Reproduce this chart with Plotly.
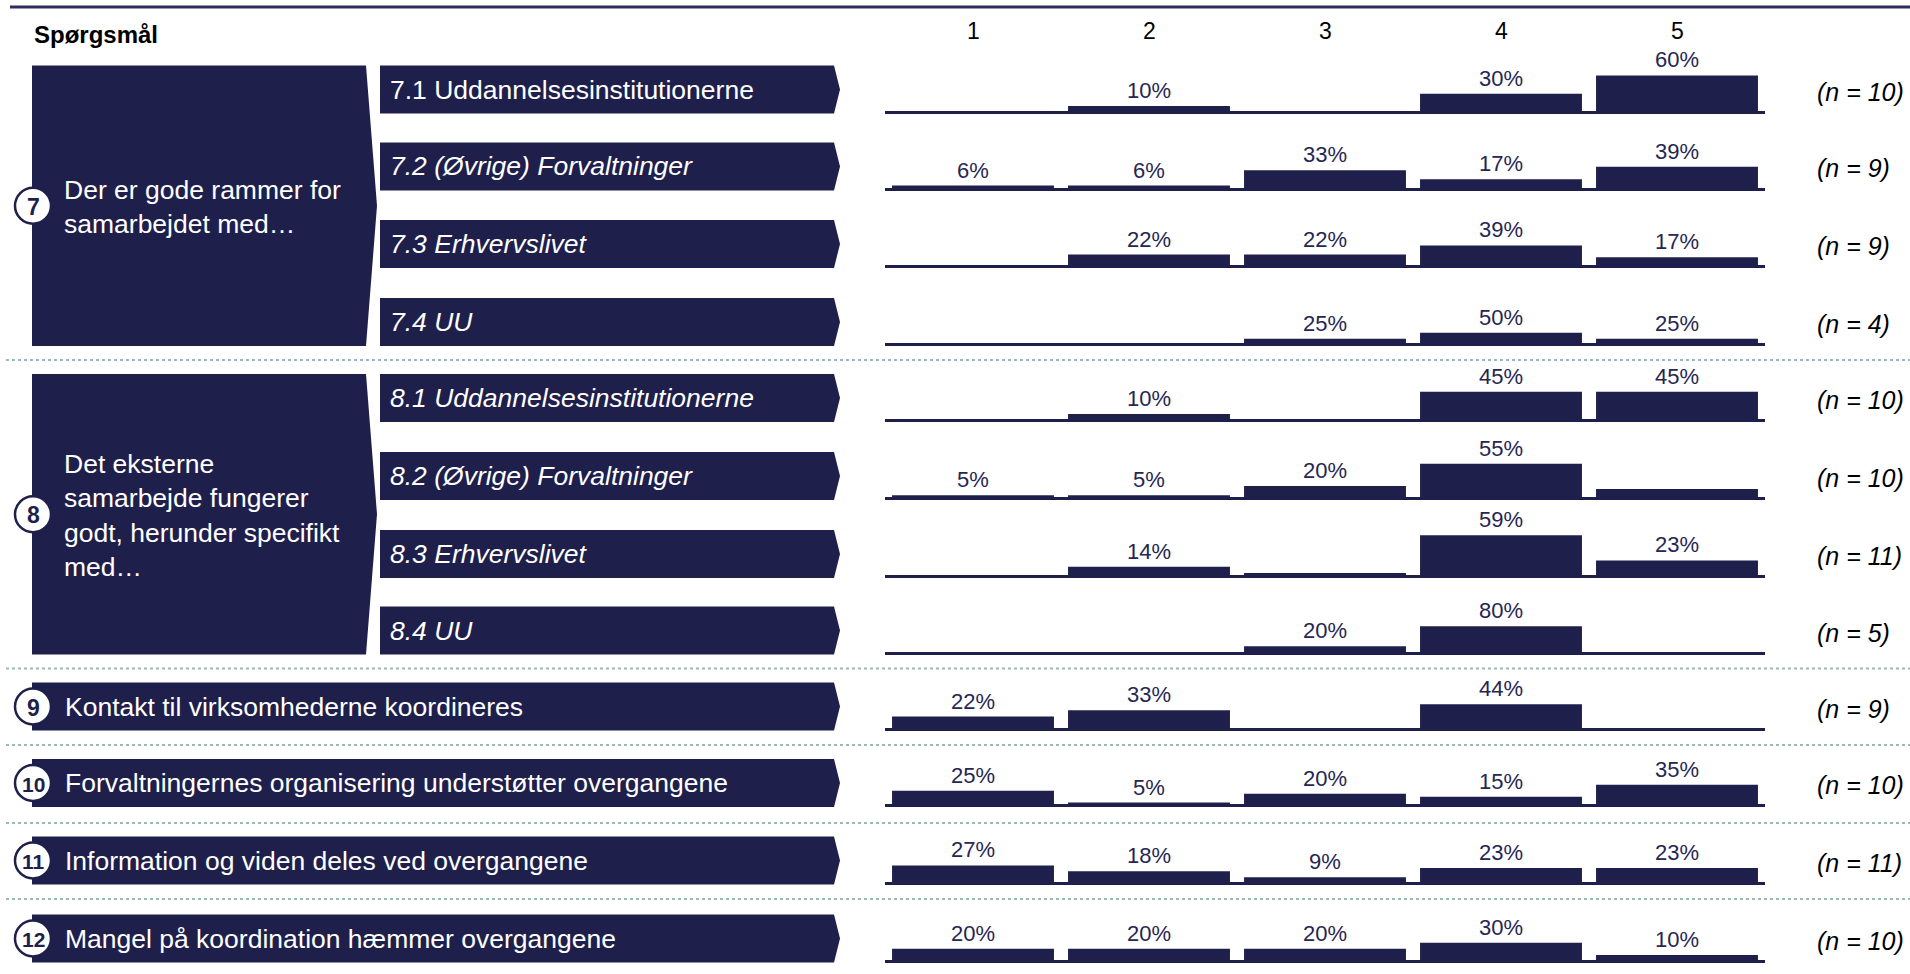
import plotly.graph_objects as go

# ---------------- data ----------------
categories = [1, 2, 3, 4, 5]
header_title = "Spørgsmål"

group_numbers = ["7", "8"]
group_texts = ["Der er gode rammer for<br>samarbejdet med…",
               "Det eksterne<br>samarbejde fungerer<br>godt, herunder specifikt<br>med…"]

sub_labels = ["7.1 Uddannelsesinstitutionerne", "7.2 (Øvrige) Forvaltninger",
              "7.3 Erhvervslivet", "7.4 UU",
              "8.1 Uddannelsesinstitutionerne", "8.2 (Øvrige) Forvaltninger",
              "8.3 Erhvervslivet", "8.4 UU"]
sub_italic = [False, True, True, True, True, True, True, True]

single_numbers = ["9", "10", "11", "12"]
single_labels = ["Kontakt til virksomhederne koordineres",
                 "Forvaltningernes organisering understøtter overgangene",
                 "Information og viden deles ved overgangene",
                 "Mangel på koordination hæmmer overgangene"]

v_7_1 = [0, 10, 0, 30, 60]
v_7_2 = [6, 6, 33, 17, 39]
v_7_3 = [0, 22, 22, 39, 17]
v_7_4 = [0, 0, 25, 50, 25]
v_8_1 = [0, 10, 0, 45, 45]
v_8_2 = [5, 5, 20, 55, 15]
v_8_3 = [0, 14, 5, 59, 23]
v_8_4 = [0, 0, 20, 80, 0]
v_9 = [22, 33, 0, 44, 0]
v_10 = [25, 5, 20, 15, 35]
v_11 = [27, 18, 9, 23, 23]
v_12 = [20, 20, 20, 30, 10]
row_values = [v_7_1, v_7_2, v_7_3, v_7_4, v_8_1, v_8_2, v_8_3, v_8_4,
              v_9, v_10, v_11, v_12]
n_values = [10, 9, 9, 4, 10, 10, 11, 5, 9, 10, 11, 10]
# bars drawn without a value label in the original (row index, category)
unlabeled = [(5, 5), (6, 3)]

# ---------------- styling / layout ----------------
W, H = 1910, 974
NAVY = "#1F1F4C"
LABEL = "#262653"
FONT = "Liberation Sans, Arial, sans-serif"
TXT = 26.5
row_bottom = [113.5, 190.5, 268, 346, 422, 500, 578, 654.5, 730.5, 807, 884.5, 962.5]
row_scale = [0.61, 0.57, 0.54, 0.235, 0.64, 0.63, 0.70, 0.335, 0.565, 0.59, 0.65, 0.61]
BOX_H = 48
PLOT_H = 70
X0, X1 = 885, 1765
separators = [360, 668.5, 745, 823, 899]


def px(x):
    return x / W


def py(y):
    return 1 - y / H


def path(points):
    return "M " + " L ".join(f"{px(x):.6f},{py(y):.6f}" for x, y in points) + " Z"


fig = go.Figure()
layout = dict(width=W, height=H, margin=dict(l=0, r=0, t=0, b=0),
              paper_bgcolor="white", plot_bgcolor="rgba(0,0,0,0)",
              showlegend=False, hovermode=False, barmode="group",
              font=dict(family=FONT))

for i, vals in enumerate(row_values):
    k = row_scale[i]
    B = row_bottom[i]
    sfx = "" if i == 0 else str(i + 1)
    texts = []
    for c, v in zip(categories, vals):
        texts.append("" if (v == 0 or (i, c) in unlabeled) else f"{v}%")
    fig.add_trace(go.Bar(x=categories, y=vals, text=texts, textposition="outside",
                         cliponaxis=False, constraintext="none", width=0.92,
                         marker=dict(color=NAVY, line=dict(width=0)),
                         textfont=dict(size=22, color=LABEL, family=FONT),
                         xaxis="x" + sfx, yaxis="y" + sfx))
    layout["xaxis" + sfx] = dict(domain=[px(X0), px(X1)], range=[0.5, 5.5],
                                 showticklabels=False, showgrid=False, zeroline=False,
                                 showline=False, ticks="", anchor="y" + sfx)
    layout["yaxis" + sfx] = dict(domain=[py(B), py(B - PLOT_H)],
                                 range=[-1.5 / k, (PLOT_H - 1.5) / k],
                                 showticklabels=False, showgrid=False, zeroline=True,
                                 zerolinewidth=3, zerolinecolor=NAVY, showline=False,
                                 ticks="", anchor="x" + sfx)

shapes = []
annotations = []

# top rule
shapes.append(dict(type="line", xref="paper", yref="paper", x0=px(10), x1=1,
                   y0=py(7), y1=py(7), line=dict(color="#2E2E5E", width=3)))

# dotted separators
for y in separators:
    shapes.append(dict(type="line", xref="paper", yref="paper", x0=px(6), x1=1,
                       y0=py(y), y1=py(y), line=dict(color="#9CB8B8", width=2, dash="dot")))

# header
annotations.append(dict(text="<b>" + header_title + "</b>", x=px(32), y=py(34),
                        xref="paper", yref="paper", xanchor="left", yanchor="middle",
                        showarrow=False, font=dict(size=24, color="black", family=FONT)))
for c in categories:
    annotations.append(dict(text=str(c), x=c, y=py(31), xref="x", yref="paper",
                            xanchor="center", yanchor="middle", showarrow=False,
                            font=dict(size=23, color="black", family=FONT)))


def circle(cy, label):
    shapes.append(dict(type="circle", xref="paper", yref="paper",
                       x0=px(15), x1=px(51), y0=py(cy + 18), y1=py(cy - 18),
                       fillcolor="white", line=dict(color=NAVY, width=2.5), layer="above"))
    annotations.append(dict(text="<b>" + label + "</b>", x=px(33), y=py(cy + 1),
                            xref="paper", yref="paper", xanchor="center", yanchor="middle",
                            showarrow=False, font=dict(size=23 if len(label) == 1 else 21,
                                                       color=NAVY, family=FONT)))


# group boxes (rows 0-3 and 4-7)
for g in range(2):
    top = row_bottom[4 * g] - BOX_H
    bot = row_bottom[4 * g + 3]
    mid = (top + bot) / 2
    shapes.append(dict(type="path", xref="paper", yref="paper",
                       path=path([(32, top), (366, top), (377, mid), (366, bot), (32, bot)]),
                       fillcolor=NAVY, line=dict(width=0), layer="below"))
    circle(mid, group_numbers[g])
    annotations.append(dict(text=group_texts[g], x=px(62), y=py(mid + 1), xref="paper",
                            yref="paper", xanchor="left", yanchor="middle", align="left",
                            showarrow=False, font=dict(size=TXT, color="white", family=FONT)))

# sub boxes
for i, lab in enumerate(sub_labels):
    bot = row_bottom[i]
    top = bot - BOX_H
    mid = (top + bot) / 2
    shapes.append(dict(type="path", xref="paper", yref="paper",
                       path=path([(380, top), (834, top), (840, mid), (834, bot), (380, bot)]),
                       fillcolor=NAVY, line=dict(width=0), layer="below"))
    annotations.append(dict(text=lab, x=px(388), y=py(mid), xref="paper", yref="paper",
                            xanchor="left", yanchor="middle", showarrow=False,
                            font=dict(size=TXT, color="white", family=FONT,
                                      style="italic" if sub_italic[i] else "normal")))

# single rows
for j, lab in enumerate(single_labels):
    i = 8 + j
    bot = row_bottom[i]
    top = bot - BOX_H
    mid = (top + bot) / 2
    shapes.append(dict(type="path", xref="paper", yref="paper",
                       path=path([(32, top), (834, top), (840, mid), (834, bot), (32, bot)]),
                       fillcolor=NAVY, line=dict(width=0), layer="below"))
    circle(mid, single_numbers[j])
    annotations.append(dict(text=lab, x=px(63), y=py(mid), xref="paper", yref="paper",
                            xanchor="left", yanchor="middle", showarrow=False,
                            font=dict(size=TXT, color="white", family=FONT)))

# n labels
for i, n in enumerate(n_values):
    mid = row_bottom[i] - BOX_H / 2
    annotations.append(dict(text=f"(n = {n})", x=px(1815), y=py(mid + 2), xref="paper",
                            yref="paper", xanchor="left", yanchor="middle", showarrow=False,
                            font=dict(size=25, color="black", family=FONT, style="italic")))

layout["shapes"] = shapes
layout["annotations"] = annotations
fig.update_layout(**layout)

fig.write_html("out.html", config={"displayModeBar": False},
               post_script="document.body.style.margin='0';document.body.style.overflow='hidden';")
